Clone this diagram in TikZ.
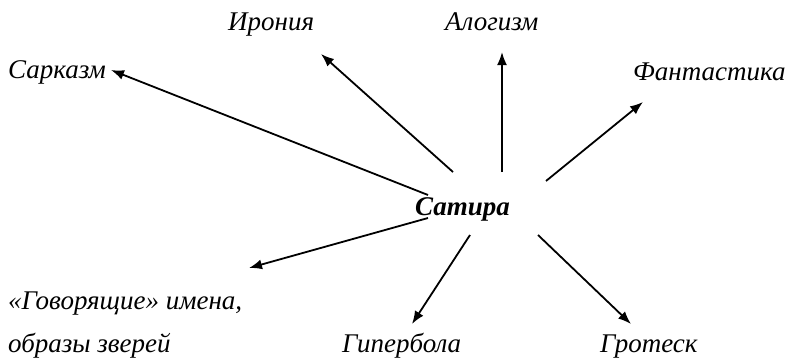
\documentclass[tikz,border=0pt]{standalone}
\usepackage{fontspec}
\setmainfont{Liberation Serif}
\usetikzlibrary{arrows.meta}
\begin{document}
\begin{tikzpicture}[x=1pt,y=-1pt,
  lbl/.style={inner sep=0pt,anchor=base west,font=\fontsize{27}{30}\selectfont\itshape},
  ctr/.style={inner sep=0pt,anchor=base west,font=\fontsize{27}{30}\selectfont\bfseries\itshape},
  arr/.style={line width=1.8pt,-{Latex[length=13pt,width=10pt]}}]
\useasboundingbox (0,0) rectangle (785,357);
\node[lbl] (sark) at (8,78) {Сарказм};
\node[lbl] (iron) at (228,30) {Ирония};
\node[lbl] (alog) at (445,30) {Алогизм};
\node[lbl] (fant) at (633,80) {Фантастика};
\node[ctr] (sat) at (415,215) {Сатира};
\node[lbl] (gov) at (8,309) {«Говорящие» имена,};
\node[lbl] (obr) at (8,352) {образы зверей};
\node[lbl] (gip) at (342,352) {Гипербола};
\node[lbl] (grot) at (600,352) {Гротеск};
% arrow ends
\coordinate (s1) at (428,195); \coordinate (t1) at (111,70);
\coordinate (s2) at (453,172); \coordinate (t2) at (321,54);
\coordinate (s3) at (502,172); \coordinate (t3) at (502,52);
\coordinate (s4) at (546,181); \coordinate (t4) at (643,102);
\coordinate (s5) at (428,218); \coordinate (t5) at (249,268);
\coordinate (s6) at (470,235); \coordinate (t6) at (412,324);
\coordinate (s7) at (538,235); \coordinate (t7) at (631,324);
\draw[arr] (s1) -- (t1);
\draw[arr] (s2) -- (t2);
\draw[arr] (s3) -- (t3);
\draw[arr] (s4) -- (t4);
\draw[arr] (s5) -- (t5);
\draw[arr] (s6) -- (t6);
\draw[arr] (s7) -- (t7);
\end{tikzpicture}
\end{document}
